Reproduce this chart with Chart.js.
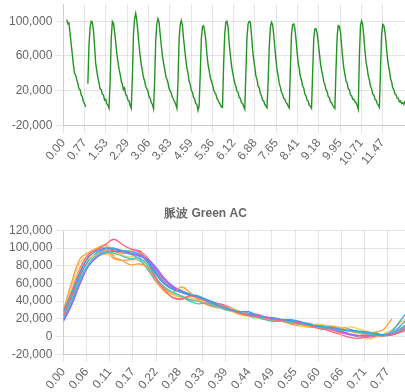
<!DOCTYPE html>
<html><head><meta charset="utf-8">
<script src="https://cdn.jsdelivr.net/npm/chart.js@4"></script>
<style>
html,body{margin:0;padding:0;background:#fff;width:405px;height:392px;overflow:hidden;}
#c1{position:absolute;left:6px;top:0;width:399px;height:169px;}
#c2{position:absolute;left:6px;top:196px;width:399px;height:196px;}
</style></head><body>
<canvas id="c1" width="399" height="169"></canvas>
<canvas id="c2" width="399" height="196"></canvas>
<script>
// ---------- top chart: raw pulse wave (Green AC) ----------
const pulseStart = 0.12;   // s, first sample
const pulseStep = 0.04;
const pulseValues = [
  102000, 97000, 98000, 86000, 74000, 62000, 50000, 40000, 38000, 33000, 28000, 22000, 21000, 15000, 13000, 7000, 5000, 1000,
  null,
  28000, 72000, 93000, 100000, 99000, 90000, 72000, 52000, 43000, 35000, 29000, 22000, 21000, 16000, 15000, 9000, 10000, 5000, 3000, -500,
  30000, 80000, 100000, 98000, 88000, 76000, 63000, 54000, 45000, 39000, 31000, 27000, 21000, 23000, 15000, 14000, 9000, 8000, 3000, -500,
  35000, 85000, 103000, 109000, 101000, 87000, 72000, 60000, 50000, 43000, 35000, 31000, 25000, 22000, 19000, 13000, 11000, 6000, 4000, -1000,
  30000, 78000, 97000, 103000, 99000, 85000, 72000, 60000, 52000, 45000, 37000, 33000, 29000, 22000, 20000, 17000, 12000, 10000, 7000, 4000, -500,
  30000, 80000, 96000, 101000, 95000, 80000, 68000, 56000, 46000, 40000, 31000, 27000, 20000, 18000, 12000, 10000, 5000, 4000, -3000,
  2000, 40000, 80000, 94000, 95000, 88000, 78000, 62000, 50000, 43000, 35000, 31000, 27000, 21000, 18000, 16000, 11000, 9000, 6000, 4000, 1000, 500,
  50000, 85000, 99000, 100000, 93000, 75000, 62000, 50000, 42000, 35000, 28000, 25000, 19000, 18000, 12000, 11000, 6000, 5000, 2000, -1500,
  40000, 82000, 97000, 100000, 99000, 85000, 68000, 56000, 47000, 37000, 33000, 25000, 23000, 17000, 14000, 9000, 8000, 4000, 2000, 0,
  30000, 70000, 93000, 99000, 96000, 85000, 70000, 56000, 44000, 37000, 28000, 24000, 18000, 16000, 11000, 10000, 6000, 5000, 2000, 0,
  45000, 85000, 96000, 97000, 92000, 80000, 65000, 52000, 45000, 36000, 32000, 25000, 23000, 16000, 14000, 9000, 8000, 3000, 2000, -500,
  40000, 80000, 91000, 91500, 87000, 76000, 64000, 52000, 44000, 38000, 30000, 27000, 21000, 19000, 13000, 12000, 7000, 6000, 3000, 1000, -500,
  45000, 82000, 95000, 94000, 88000, 72000, 58000, 46000, 39000, 31000, 29000, 22000, 21000, 15000, 14000, 10000, 10000, 7000, 6000, 3000, -1500,
  60000, 95000, 100500, 96000, 82000, 66000, 53000, 46000, 37000, 32000, 25000, 22000, 16000, 15000, 10000, 9000, 5000, 3000, 500,
  45000, 85000, 96500, 95000, 88000, 75000, 60000, 50000, 43000, 34000, 30000, 23000, 21000, 16000, 15000, 11000, 11000, 7000, 8000, 5000, 6000, 4000, 8000
];
const topXTickValues = [0, 0.765, 1.53, 2.295, 3.06, 3.825, 4.59, 5.355, 6.12, 6.885, 7.65, 8.415, 9.18, 9.945, 10.71, 11.475];
const topXTickLabels = ['0.00','0.77','1.53','2.29','3.06','3.83','4.59','5.36','6.12','6.88','7.65','8.41','9.18','9.95','10.71','11.47'];
const topYTickValues = [-20000, 20000, 60000, 100000];
const topYTickLabels = ['-20,000','20,000','60,000','100,000'];

// ---------- bottom chart: overlaid single cycles ----------
const chartTitle = '脈波 Green AC';
const cycleTimes = [0,0.02,0.04,0.06,0.08,0.10,0.12,0.14,0.16,0.18,0.20,0.22,0.24,0.26,0.28,0.30,0.32,0.34,0.36,0.38,0.40,
  0.42,0.44,0.46,0.48,0.50,0.52,0.54,0.56,0.58,0.60,0.62,0.64,0.66,0.68,0.70,0.72,0.74,0.76,0.78,0.80,0.82];
const cycle1 = [28000,50000,74000,90000,97000,100000,99000,97000,96000,93000,84000,70000,59000,53000,50000,47000,45000,41000,37000,33000,30000,28000,28000,24000,22000,21000,19000,18000,17000,14000,12000,11000,10000,8000,7000,6000,5000,3000,2000,6000,18000,30000];
const cycle2 = [24000,46000,72000,90000,98000,104000,110000,104000,99000,96000,84000,66000,53000,44000,42000,46000,44000,40000,36000,33000,30000,26000,24000,23000,21000,19000,18000,17000,15000,13000,10000,8000,5000,2000,-1000,-2000,0,1000,1000,2000,5000,9000];
const cycle3 = [22000,42000,65000,82000,92000,95000,94000,91000,88000,89000,80000,66000,56000,50000,46000,40000,37000,38000,35000,31000,29000,27000,24000,22000,19000,17000,18000,16000,14000,13000,11000,10000,8000,7000,6000,5000,3000,2000,1000,3000,8000,14000];
const cycle4 = [30000,62000,88000,95000,100000,103000,90000,86000,81000,82000,78000,64000,55000,50000,56000,50000,42000,37000,37000,34000,29000,25000,23000,24000,20000,18000,17000,15000,14000,12000,10000,10000,11000,9000,6000,4000,3000,5000,8000,20000,null,null];
const cycle5 = [17000,36000,60000,80000,90000,95000,96000,96000,94000,91000,87000,76000,64000,56000,50000,47000,44000,40000,37000,34000,30000,27000,25000,24000,22000,20000,19000,17000,16000,14000,12000,10000,9000,6000,3000,1000,1000,2000,2000,3000,9000,15000];
const cycle6 = [26000,50000,76000,88000,93000,93000,92000,95000,97000,95000,83000,66000,54000,48000,46000,44000,41000,40000,35000,32000,32000,28000,25000,22000,20000,21000,19000,16000,13000,12000,14000,13000,12000,10000,7000,1000,-3000,-1000,3000,8000,16000,22000];
const cycle7 = [24000,44000,68000,86000,95000,99000,100000,97000,97000,95000,86000,72000,60000,54000,51000,48000,46000,42000,38000,34000,30000,27000,25000,23000,21000,19000,19000,19000,17000,14000,13000,12000,11000,10000,8000,5000,4000,4000,2000,4000,12000,22000];
const cycle8 = [27000,52000,78000,93000,99000,100000,97000,94000,97000,97000,89000,74000,62000,55000,51000,48000,44000,41000,38000,36000,32000,28000,26000,25000,22000,20000,18000,16000,15000,14000,11000,9000,7000,4000,2000,1000,2000,1000,1000,2000,6000,12000];
const cycle9 = [20000,40000,63000,80000,90000,94000,96000,95000,93000,88000,76000,63000,55000,49000,45000,42000,40000,37000,34000,33000,30000,28000,26000,24000,21000,20000,17000,15000,16000,15000,13000,11000,9000,8000,7000,6000,5000,3000,1000,2000,7000,12000];
const cycle10 = [25000,47000,70000,86000,94000,97000,88000,86000,87000,86000,76000,62000,51000,44000,43000,46000,42000,36000,33000,32000,31000,27000,23000,21000,19000,18000,17000,14000,12000,11000,10000,8000,9000,10000,8000,4000,2000,1000,1000,3000,6000,10000];
const cycle11 = [19000,38000,62000,82000,92000,97000,98000,96000,94000,92000,88000,78000,66000,57000,52000,48000,44000,41000,38000,34000,31000,28000,26000,23000,21000,19000,18000,17000,15000,13000,12000,10000,8000,5000,2000,0,-1000,0,1000,2000,5000,9000];
const cycle12 = [29000,58000,84000,92000,98000,104000,97000,92000,90000,93000,80000,63000,52000,47000,44000,41000,40000,38000,36000,31000,28000,25000,24000,22000,21000,20000,18000,17000,14000,12000,10000,9000,8000,9000,11000,9000,6000,4000,2000,3000,7000,13000];
const cycles = [cycle1, cycle2, cycle3, cycle4, cycle5, cycle6, cycle7, cycle8, cycle9, cycle10, cycle11, cycle12];
const cycleColors = ['#36A2EB','#FF6384','#4BC0C0','#FF9F40','#9966FF','#FFCD56'];
const bottomXTickValues = [0,0.055,0.11,0.165,0.22,0.275,0.33,0.385,0.44,0.495,0.55,0.605,0.66,0.715,0.77];
const bottomXTickLabels = ['0.00','0.06','0.11','0.17','0.22','0.28','0.33','0.39','0.44','0.49','0.55','0.60','0.66','0.71','0.77'];
const bottomYTickValues = [-20000,0,20000,40000,60000,80000,100000,120000];
const bottomYTickLabels = ['-20,000','0','20,000','40,000','60,000','80,000','100,000','120,000'];

Chart.defaults.color = '#666';
Chart.defaults.font.size = 12;

function fixedTicks(values) {
  return function (scale) { scale.ticks = values.map(v => ({ value: v })); };
}

new Chart(document.getElementById('c1'), {
  type: 'line',
  data: {
    datasets: [{
      data: pulseValues.map((v, i) => ({ x: pulseStart + i * pulseStep, y: v })),
      borderColor: '#239423',
      borderWidth: 1.4,
      pointRadius: 0,
      tension: 0,
      spanGaps: false
    }]
  },
  options: {
    responsive: false, animation: false,
    plugins: { legend: { display: false }, tooltip: { enabled: false } },
    scales: {
      x: {
        type: 'linear', min: 0, max: 12.28,
        afterBuildTicks: fixedTicks(topXTickValues),
        afterFit: s => { s.height = 43.8; },
        ticks: { autoSkip: false, minRotation: 50, maxRotation: 50, callback: (v, i) => topXTickLabels[i] }
      },
      y: {
        min: -20000, max: 120000,
        afterBuildTicks: fixedTicks(topYTickValues),
        afterFit: s => { s.paddingTop = 4; },
        ticks: { autoSkip: false, callback: (v, i) => topYTickLabels[i] }
      }
    }
  }
});

new Chart(document.getElementById('c2'), {
  type: 'line',
  data: {
    datasets: cycles.map((c, k) => ({
      data: c.map((v, i) => ({ x: cycleTimes[i], y: v })),
      borderColor: cycleColors[k % cycleColors.length],
      borderWidth: 1.3,
      pointRadius: 0,
      tension: 0.4
    }))
  },
  options: {
    responsive: false, animation: false,
    plugins: {
      legend: { display: false }, tooltip: { enabled: false },
      title: { display: true, text: chartTitle }
    },
    scales: {
      x: {
        type: 'linear', min: 0, max: 0.811,
        afterBuildTicks: fixedTicks(bottomXTickValues),
        afterFit: s => { s.height = 37.8; },
        ticks: { autoSkip: false, minRotation: 50, maxRotation: 50, callback: (v, i) => bottomXTickLabels[i] }
      },
      y: {
        min: -20000, max: 120000,
        afterBuildTicks: fixedTicks(bottomYTickValues),
        ticks: { autoSkip: false, callback: (v, i) => bottomYTickLabels[i] }
      }
    }
  }
});
</script>
</body></html>
